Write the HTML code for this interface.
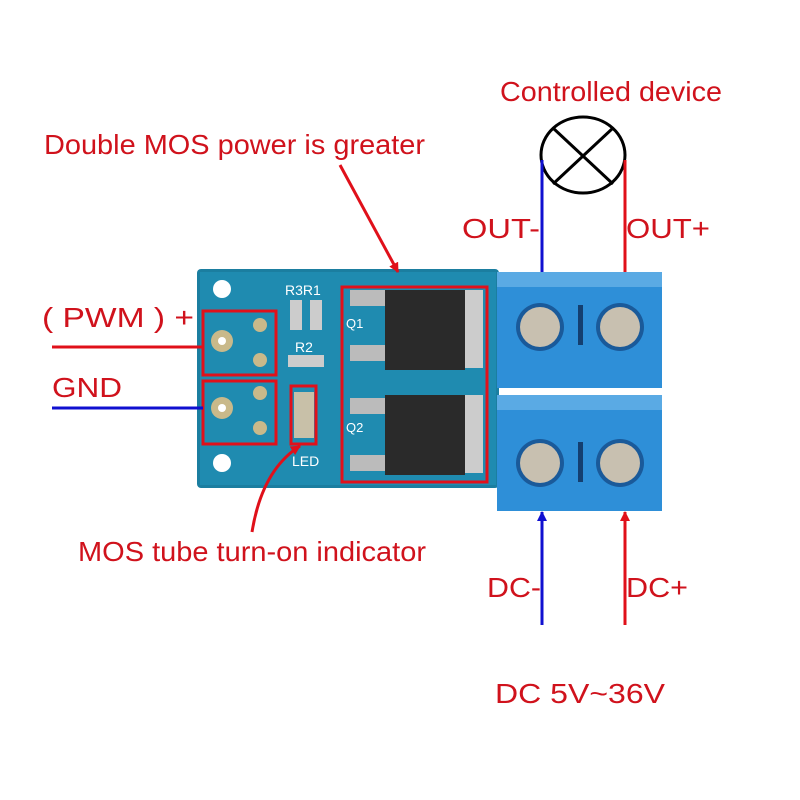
<!DOCTYPE html>
<html><head><style>body{margin:0;background:#fff}svg{display:block}</style></head>
<body>
<svg width="800" height="800" viewBox="0 0 800 800" xmlns="http://www.w3.org/2000/svg" font-family="Liberation Sans, sans-serif">
<defs>
<marker id="ar" markerWidth="10" markerHeight="10" refX="9" refY="5" orient="auto" markerUnits="userSpaceOnUse"><path d="M0,0 L10,5 L0,10 z" fill="#e0101a"/></marker>
<marker id="ab" markerWidth="10" markerHeight="10" refX="9" refY="5" orient="auto" markerUnits="userSpaceOnUse"><path d="M0,0 L10,5 L0,10 z" fill="#1010d0"/></marker>
</defs>
<g fill="#d0121c" font-size="28">
<text x="500" y="101" textLength="222" lengthAdjust="spacingAndGlyphs">Controlled device</text>
<text x="44" y="154" textLength="381" lengthAdjust="spacingAndGlyphs">Double MOS power is greater</text>
<text x="462" y="238" textLength="78" lengthAdjust="spacingAndGlyphs">OUT-</text>
<text x="626" y="238" textLength="84" lengthAdjust="spacingAndGlyphs">OUT+</text>
<text x="42" y="327" textLength="152" lengthAdjust="spacingAndGlyphs">( PWM ) +</text>
<text x="52" y="397" textLength="70" lengthAdjust="spacingAndGlyphs">GND</text>
<text x="78" y="561" textLength="348" lengthAdjust="spacingAndGlyphs">MOS tube turn-on indicator</text>
<text x="487" y="597" textLength="54" lengthAdjust="spacingAndGlyphs">DC-</text>
<text x="626" y="597" textLength="62" lengthAdjust="spacingAndGlyphs">DC+</text>
<text x="495" y="703" textLength="170" lengthAdjust="spacingAndGlyphs">DC 5V~36V</text>
</g>
<ellipse cx="583" cy="155" rx="42" ry="38" fill="none" stroke="#000" stroke-width="3"/>
<line x1="553" y1="128" x2="613" y2="184" stroke="#000" stroke-width="3"/>
<line x1="613" y1="128" x2="553" y2="184" stroke="#000" stroke-width="3"/>
<line x1="542" y1="160" x2="542" y2="272" stroke="#1010d0" stroke-width="3"/>
<line x1="625" y1="160" x2="625" y2="272" stroke="#e0101a" stroke-width="3"/>
<rect x="197" y="269" width="302" height="219" rx="4" fill="#1b7ea0"/>
<rect x="200" y="272" width="296" height="213" fill="#1f8bb0"/>
<circle cx="222" cy="289" r="9" fill="#fff"/>
<circle cx="222" cy="463" r="9" fill="#fff"/>
<circle cx="222" cy="341" r="11" fill="#c9b98a"/><circle cx="222" cy="341" r="4" fill="#fff"/>
<circle cx="222" cy="408" r="11" fill="#c9b98a"/><circle cx="222" cy="408" r="4" fill="#fff"/>
<circle cx="260" cy="325" r="7" fill="#c9b98a"/><circle cx="260" cy="360" r="7" fill="#c9b98a"/>
<circle cx="260" cy="393" r="7" fill="#c9b98a"/><circle cx="260" cy="428" r="7" fill="#c9b98a"/>
<rect x="290" y="300" width="12" height="30" fill="#ccc"/><rect x="310" y="300" width="12" height="30" fill="#ccc"/>
<rect x="288" y="355" width="36" height="12" fill="#ccc"/>
<text x="285" y="295" font-size="14" fill="#fff">R3R1</text>
<text x="295" y="352" font-size="14" fill="#fff">R2</text>
<text x="292" y="466" font-size="14" fill="#fff">LED</text>
<rect x="294" y="392" width="20" height="46" fill="#c8c0a8"/>
<rect x="350" y="290" width="35" height="16" fill="#bbb"/><rect x="350" y="345" width="35" height="16" fill="#bbb"/>
<rect x="385" y="290" width="80" height="80" fill="#2a2a2a"/><rect x="465" y="290" width="18" height="78" fill="#ccc"/>
<rect x="350" y="398" width="35" height="16" fill="#bbb"/><rect x="350" y="455" width="35" height="16" fill="#bbb"/>
<rect x="385" y="395" width="80" height="80" fill="#2a2a2a"/><rect x="465" y="395" width="18" height="78" fill="#ccc"/>
<text x="346" y="328" font-size="13" fill="#fff">Q1</text>
<text x="346" y="432" font-size="13" fill="#fff">Q2</text>
<rect x="497" y="272" width="165" height="116" fill="#2e8fd8"/>
<rect x="497" y="395" width="165" height="116" fill="#2e8fd8"/>
<rect x="497" y="272" width="165" height="15" fill="#5aaae4"/>
<rect x="497" y="395" width="165" height="15" fill="#5aaae4"/>
<circle cx="540" cy="327" r="24" fill="#1a5a9a"/><circle cx="540" cy="327" r="20" fill="#c8c0b0"/>
<circle cx="620" cy="327" r="24" fill="#1a5a9a"/><circle cx="620" cy="327" r="20" fill="#c8c0b0"/>
<circle cx="540" cy="463" r="24" fill="#1a5a9a"/><circle cx="540" cy="463" r="20" fill="#c8c0b0"/>
<circle cx="620" cy="463" r="24" fill="#1a5a9a"/><circle cx="620" cy="463" r="20" fill="#c8c0b0"/>
<rect x="578" y="305" width="5" height="40" fill="#143f70"/><rect x="578" y="442" width="5" height="40" fill="#143f70"/>
<g fill="none" stroke="#e0101a" stroke-width="3">
<rect x="203" y="311" width="73" height="64"/>
<rect x="203" y="381" width="73" height="63"/>
<rect x="291" y="386" width="25" height="58"/>
<rect x="342" y="287" width="145" height="195"/>
</g>
<line x1="52" y1="347" x2="203" y2="347" stroke="#e0101a" stroke-width="3"/>
<line x1="52" y1="408" x2="203" y2="408" stroke="#1010d0" stroke-width="3"/>
<line x1="340" y1="165" x2="398" y2="272" stroke="#e0101a" stroke-width="3" marker-end="url(#ar)"/>
<path d="M252,532 Q262,470 300,446" fill="none" stroke="#e0101a" stroke-width="3" marker-end="url(#ar)"/>
<line x1="542" y1="625" x2="542" y2="512" stroke="#1010d0" stroke-width="3" marker-end="url(#ab)"/>
<line x1="625" y1="625" x2="625" y2="512" stroke="#e0101a" stroke-width="3" marker-end="url(#ar)"/>
</svg>
</body></html>
